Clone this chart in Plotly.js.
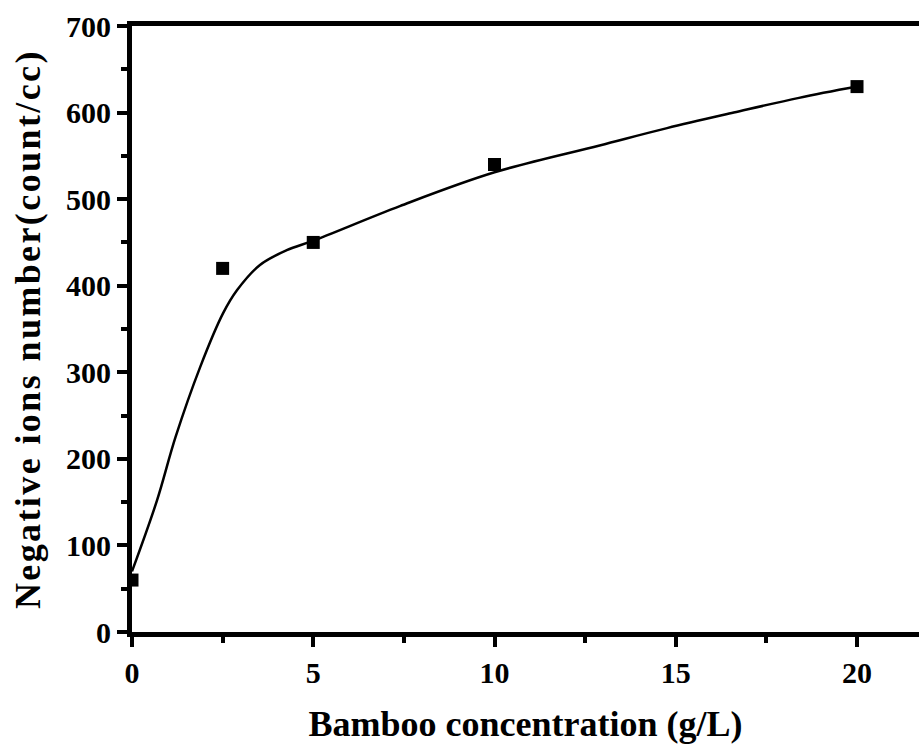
<!DOCTYPE html>
<html><head><meta charset="utf-8">
<script src="https://cdn.plot.ly/plotly-3.0.1.min.js"></script>
<style>
html,body{margin:0;padding:0;background:#fff;}
.ytitle-ann text{letter-spacing:2.4px;}
</style>
</head><body>
<div id="chart" style="width:919px;height:744px;"></div>
<script>
// Measured data points
var concentration = [0, 2.5, 5, 10, 20];
var negativeIons = [60, 420, 450, 540, 630];
// Fitted curve
var fitX = [0, 0.69, 1.2, 1.88, 2.51, 2.9, 3.53, 4.27, 5, 7.39, 10, 12.9, 14.76, 16.6, 18.4, 20];
var fitY = [70, 152, 225, 306, 368, 395, 424, 441, 452, 492, 531, 562, 582, 600, 617, 630];

var fam = '"Liberation Serif", "Times New Roman", serif';

var traces = [
  {x: fitX, y: fitY, mode: 'lines', type: 'scatter', line: {color: '#000', width: 2.5, shape: 'spline', smoothing: 1}, hoverinfo: 'skip'},
  {x: concentration, y: negativeIons, mode: 'markers', type: 'scatter', marker: {symbol: 'square', size: 13, color: '#000'}}
];

var layout = {
  width: 919, height: 744,
  margin: {l: 132, r: 0, t: 26, b: 112},
  showlegend: false,
  paper_bgcolor: '#fff', plot_bgcolor: '#fff',
  font: {family: fam, color: '#000'},
  xaxis: {
    range: [0, 21.71], tickvals: [0, 5, 10, 15, 20], ticktext: ['0', '5', '10', '15', '20'],
    ticks: 'outside', ticklen: 10, tickwidth: 4, tickcolor: '#000',
    showline: true, linewidth: 5, linecolor: '#000', mirror: true,
    showgrid: false, zeroline: false,
    minor: {tickvals: [2.5, 7.5, 12.5, 17.5], ticks: 'outside', ticklen: 6, tickwidth: 4, tickcolor: '#000', showgrid: false},
    tickfont: {family: fam, size: 30, color: '#000', weight: 'bold'},
    title: {text: '<b>Bamboo concentration (g/L)</b>', font: {family: fam, size: 36, color: '#000'}, standoff: 30}
  },
  yaxis: {
    range: [0, 700], tickvals: [0, 100, 200, 300, 400, 500, 600, 700],
    ticks: 'outside', ticklen: 10, tickwidth: 4, tickcolor: '#000',
    showline: true, linewidth: 5, linecolor: '#000',
    showgrid: false, zeroline: false,
    minor: {tickvals: [50, 150, 250, 350, 450, 550, 650], ticks: 'outside', ticklen: 6, tickwidth: 4, tickcolor: '#000', showgrid: false},
    tickfont: {family: fam, size: 30, color: '#000', weight: 'bold'}
  },
  annotations: [{
    text: '<b>Negative ions number(count/cc)</b>',
    xref: 'paper', yref: 'paper', x: -0.132, y: 0.5,
    xanchor: 'center', yanchor: 'middle', textangle: -90, showarrow: false,
    font: {family: fam, size: 36, color: '#000'}
  }]
};

Plotly.newPlot('chart', traces, layout, {displayModeBar: false, staticPlot: true}).then(function(gd){
  var a = gd.querySelector('.annotation');
  if (a) a.classList.add('ytitle-ann');
});
</script>
</body></html>
